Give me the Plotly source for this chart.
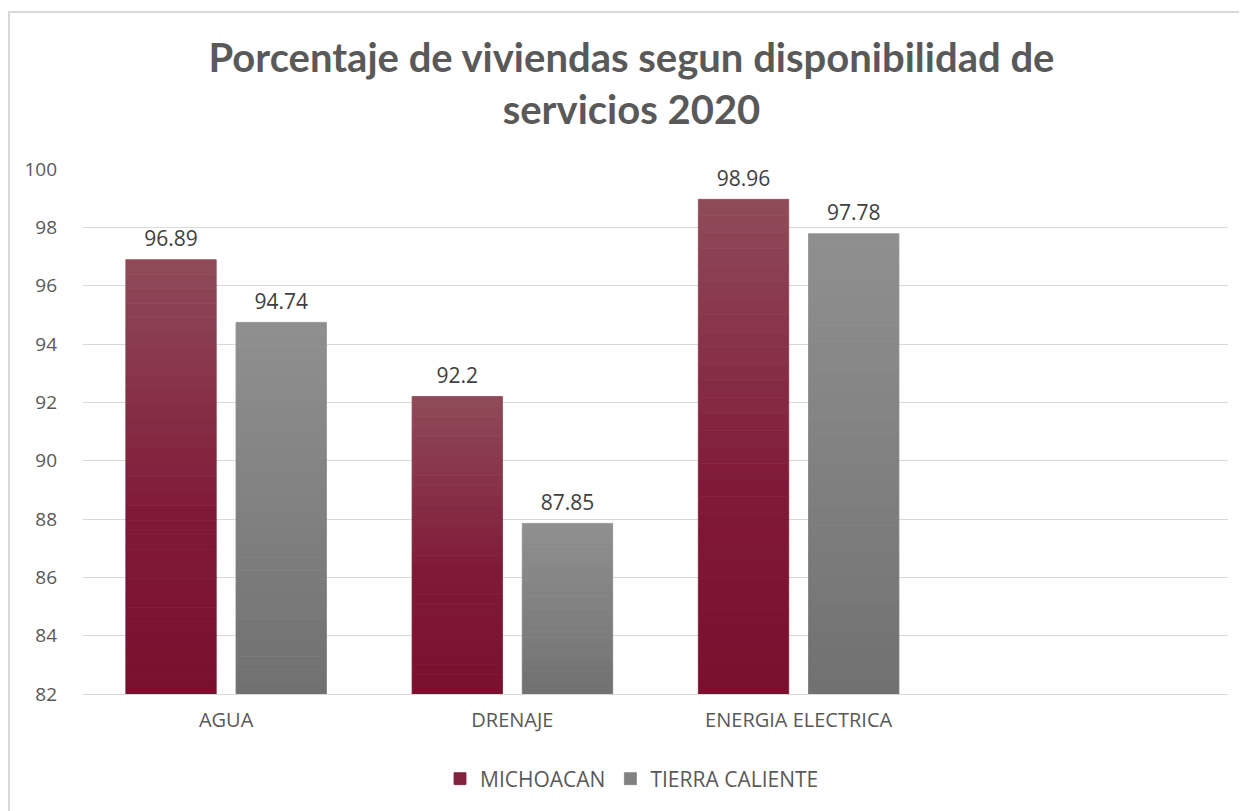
import plotly.graph_objects as go

categories = ["AGUA", "DRENAJE", "ENERGIA ELECTRICA"]
michoacan = [96.89, 92.2, 98.96]
tierra_caliente = [94.74, 87.85, 97.78]
series_names = ["MICHOACAN", "TIERRA CALIENTE"]
y_ticks = [82, 84, 86, 88, 90, 92, 94, 96, 98, 100]

AXIS_MIN = 82
N_SEG = 30

def lerp(c1, c2, t):
    return "rgb(%d,%d,%d)" % tuple(round(a + (b - a) * t) for a, b in zip(c1, c2))

def gradient_color(top, mid, bottom, frac_from_top):
    if frac_from_top < 0.6:
        return lerp(top, mid, frac_from_top / 0.6)
    return lerp(mid, bottom, (frac_from_top - 0.6) / 0.4)

styles = {
    "MICHOACAN": ((143, 75, 89), (128, 24, 56), (122, 16, 46)),
    "TIERRA CALIENTE": ((143, 143, 143), (126, 126, 126), (112, 112, 112)),
}

fig = go.Figure()
for name, vals in zip(series_names, [michoacan, tierra_caliente]):
    top, mid, bot = styles[name]
    for k in range(N_SEG):
        bases = [AXIS_MIN + (v - AXIS_MIN) * k / N_SEG for v in vals]
        heights = [(v - AXIS_MIN) / N_SEG for v in vals]
        frac_from_top = 1 - (k + 0.5) / N_SEG
        col = gradient_color(top, mid, bot, frac_from_top)
        fig.add_trace(go.Bar(
            x=categories, y=heights, base=bases,
            offsetgroup=name, alignmentgroup="g", name=name,
            legendgroup=name,
            showlegend=(k == N_SEG // 2),
            marker=dict(color=col, line=dict(width=0.8, color=col)),
            hoverinfo="skip",
        ))
    # data labels
    fig.add_trace(go.Scatter(
        x=categories, y=vals, mode="markers+text",
        marker=dict(size=12, opacity=0),
        text=[f"{v:g}" for v in vals], textposition="top center",
        offsetgroup=name, alignmentgroup="g",
        textfont=dict(family="Open Sans, sans-serif", size=21, color="#404040"),
        showlegend=False, cliponaxis=False, hoverinfo="skip",
    ))

# the page body adds an 8px offset; the figure is sized to fit the window
OFF = 8
W, H = 1247 - OFF, 811 - OFF
ml, mr, mt, mb = 83 - OFF, 1247 - 1228, 169 - OFF, 811 - 694
pw, ph = W - ml - mr, H - mt - mb

fig.update_layout(
    width=W, height=H,
    margin=dict(l=ml, r=mr, t=mt, b=mb, autoexpand=False),
    paper_bgcolor="white", plot_bgcolor="white",
    barmode="group", bargap=0.23, bargroupgap=0.18,
    scattermode="group", scattergap=0.23,
    title=dict(
        text="Porcentaje de viviendas segun disponibilidad de<br>servicios 2020",
        x=(631.5 - OFF) / W, xanchor="center", y=1 - 64 / H, yanchor="middle",
        font=dict(family="Lato, sans-serif", size=40, color="#595959", weight="bold"),
    ),
    font=dict(family="Open Sans, sans-serif", color="#595959"),
    showlegend=True,
    legend=dict(
        orientation="h", x=(632 - 83) / pw, xanchor="center",
        yref="container", y=1 - (779 - OFF) / H, yanchor="middle",
        font=dict(size=21, color="#595959"), traceorder="normal",
    ),
)
fig.update_xaxes(
    type="category", range=[-0.5, 3.5], automargin=False,
    showgrid=False, showline=True, linecolor="#D9D9D9", linewidth=1,
    ticks="", tickfont=dict(size=20, color="#595959"), ticklabelstandoff=8,
)
fig.update_yaxes(
    range=[82, 100], tickvals=y_ticks, showgrid=True, gridcolor="#D9D9D9", gridwidth=1,
    zeroline=False, showline=False, ticks="", ticklabelstandoff=25, automargin=False,
    tickfont=dict(size=19, color="#595959"),
)
fig.add_shape(
    type="rect", xref="paper", yref="paper",
    x0=(1 - ml) / pw, x1=(W + 20 - ml) / pw,
    y0=-(mb + 20) / ph, y1=1 + (mt - 4) / ph,
    line=dict(color="#D9D9D9", width=2), fillcolor="rgba(0,0,0,0)", layer="below",
)
fig.write_html("out.html")
